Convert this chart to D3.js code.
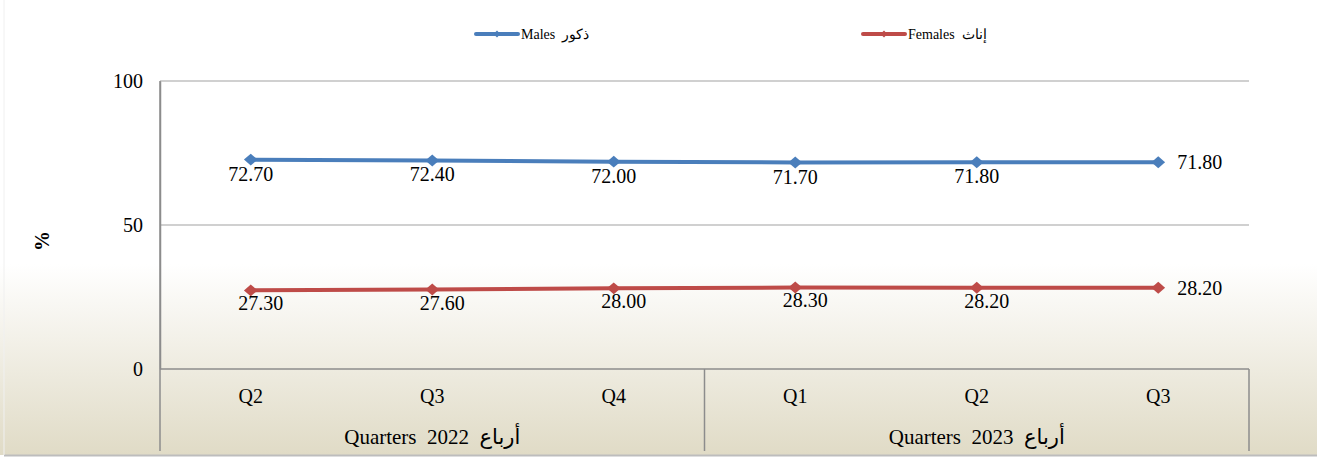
<!DOCTYPE html>
<html>
<head>
<meta charset="utf-8">
<script src="https://cdn.jsdelivr.net/npm/d3@7"></script>
<style>
  body { margin: 0; background: #fff; }
  svg text { font-family: "Liberation Serif", "Times New Roman", Tinos, serif; fill: #000; white-space: pre; }
</style>
</head>
<body>
<div id="graph"></div>
<script>
//chart data
let quarters = ["Q2", "Q3", "Q4", "Q1", "Q2", "Q3"];
let years = ["2022", "2022", "2022", "2023", "2023", "2023"];
let males = [72.70, 72.40, 72.00, 71.70, 71.80, 71.80];
let females = [27.30, 27.60, 28.00, 28.30, 28.20, 28.20];
let yTicks = [0, 50, 100];
let groupYears = ["2022", "2023"];
let groupWord = "Quarters";
let groupWordAr = "أرباع";
let seriesNames = ["Males  ذكور", "Females  إناث"];

let width = 1319, height = 458;
let margin = {left: 160, right: 70, top: 81, bottom: 89};
let FONT = "'Liberation Serif', 'Times New Roman', serif";

let svg = d3.select("#graph")
    .append("svg")
    .attr("width", width)
    .attr("height", height)
    .attr("font-family", FONT);

//background gradient
let defs = svg.append("defs");
let grad = defs.append("linearGradient")
    .attr("id", "bg")
    .attr("x1", 0).attr("y1", 0).attr("x2", 0).attr("y2", 1);
grad.append("stop").attr("offset", "0%").attr("stop-color", "#ffffff");
grad.append("stop").attr("offset", "58%").attr("stop-color", "#ffffff");
grad.append("stop").attr("offset", "100%").attr("stop-color", "#e0dbc6");

svg.append("rect")
    .attr("x", 0).attr("y", 0)
    .attr("width", width - 2).attr("height", height - 3)
    .attr("fill", "url(#bg)");
//faint border
svg.append("line").attr("x1", 4).attr("x2", width - 2).attr("y1", height - 2.5).attr("y2", height - 2.5)
    .attr("stroke", "#bdbdbd").attr("stroke-width", 2);
svg.append("line").attr("x1", 4).attr("x2", 4).attr("y1", 0).attr("y2", height - 3)
    .attr("stroke", "#f0f0f0").attr("stroke-width", 1);

let idx = d3.range(quarters.length);

//x scale
let x = d3.scaleBand()
    .domain(idx)
    .range([margin.left, width - margin.right]);

//y scale
let y = d3.scaleLinear()
    .domain([0, 100])
    .range([height - margin.bottom, margin.top]);

//gridlines
svg.append("g").selectAll("line").data(yTicks.filter(d => d > 0)).enter()
    .append("line")
    .attr("x1", margin.left).attr("x2", width - margin.right)
    .attr("y1", d => y(d)).attr("y2", d => y(d))
    .attr("stroke", "#c0c0c0").attr("stroke-width", 1.5);

//y axis
let yAxis = svg.append("g")
    .attr("transform", `translate(${margin.left},0)`)
    .call(d3.axisLeft(y).tickValues(yTicks).tickSize(0).tickPadding(17));
yAxis.attr("font-family", FONT).attr("font-size", 20);
yAxis.select(".domain").attr("stroke", "#8c8c8c").attr("stroke-width", 1.5);

//x axis line and group box
let axisY = y(0);
let boxBottom = height - 7;
svg.append("line")
    .attr("x1", margin.left).attr("x2", width - margin.right)
    .attr("y1", axisY).attr("y2", axisY)
    .attr("stroke", "#8c8c8c").attr("stroke-width", 1.5);

let groupBounds = groupYears.map(function(yr) {
    let members = idx.filter(i => years[i] === yr);
    let x0 = x(members[0]);
    let x1 = x(members[members.length - 1]) + x.bandwidth();
    return {year: yr, x0: x0, x1: x1};
});

let dividers = [margin.left].concat(groupBounds.map(g => g.x1));
svg.append("g").selectAll("line").data(dividers).enter()
    .append("line")
    .attr("x1", d => d).attr("x2", d => d)
    .attr("y2", boxBottom)
    .attr("stroke", "#8c8c8c").attr("stroke-width", 1.5)
    .attr("y1", (d, i) => i === 0 ? margin.top : axisY);

//quarter labels
svg.append("g").selectAll("text").data(idx).enter()
    .append("text")
    .attr("x", d => x(d) + x.bandwidth() / 2)
    .attr("y", axisY + 34)
    .style("text-anchor", "middle")
    .style("font-size", "20px")
    .text(d => quarters[d]);

//group labels
let gl = svg.append("g").selectAll("text").data(groupBounds).enter()
    .append("text")
    .attr("x", d => (d.x0 + d.x1) / 2)
    .attr("y", axisY + 75)
    .style("text-anchor", "middle")
    .style("font-size", "21px");
gl.append("tspan").text(d => `${groupWord}  ${d.year}  `);
gl.append("tspan").style("font-size", "25px").style("font-family", "'DejaVu Sans', sans-serif")
    .style("font-size", "21px").text(groupWordAr);

//y label
svg.append("text")
    .attr("transform", `translate(${49},${241}) rotate(-90)`)
    .style("text-anchor", "middle")
    .style("font-size", "20px")
    .style("font-weight", "bold")
    .text("%");

//series lines
let series = [
    {name: seriesNames[0], values: males, color: "#4a7ebb", dx: 0, dy: 21},
    {name: seriesNames[1], values: females, color: "#be4b48", dx: 10, dy: 20}
];

let line = d3.line()
    .x((d, i) => x(i) + x.bandwidth() / 2)
    .y(d => y(d));

let diamond = d3.symbol().type(d3.symbolDiamond2).size(90);

series.forEach(function(s) {
    svg.append("path")
        .datum(s.values)
        .attr("fill", "none")
        .attr("stroke", s.color)
        .attr("stroke-width", 4)
        .attr("stroke-linecap", "round")
        .attr("d", line);

    svg.append("g").selectAll("path").data(s.values).enter()
        .append("path")
        .attr("d", diamond)
        .attr("fill", s.color)
        .attr("transform", (d, i) => `translate(${x(i) + x.bandwidth() / 2},${y(d)}) scale(1.15,1)`);

    //data labels
    let last = s.values.length - 1;
    svg.append("g").selectAll("text").data(s.values).enter()
        .append("text")
        .attr("x", (d, i) => i === last ? x(i) + x.bandwidth() / 2 + 19 : x(i) + x.bandwidth() / 2 + s.dx)
        .attr("y", (d, i) => i === last ? y(d) + 7 : y(d) + s.dy)
        .style("text-anchor", (d, i) => i === last ? "start" : "middle")
        .style("font-size", "20px")
        .text(d => d.toFixed(2));
});

//legend
let legendX = [476, 863];
let legend = svg.append("g").selectAll("g").data(series).enter()
    .append("g")
    .attr("transform", (d, i) => `translate(${legendX[i]},${34})`);

legend.append("line")
    .attr("x1", 0).attr("x2", 42)
    .attr("stroke", d => d.color)
    .attr("stroke-width", 4)
    .attr("stroke-linecap", "round");

legend.append("path")
    .attr("d", d3.symbol().type(d3.symbolDiamond2).size(30))
    .attr("transform", "translate(21,0)")
    .attr("fill", d => d.color);

legend.append("text")
    .attr("x", 45)
    .attr("y", 5)
    .style("font-size", "14px")
    .text(d => d.name);
</script>
</body>
</html>
